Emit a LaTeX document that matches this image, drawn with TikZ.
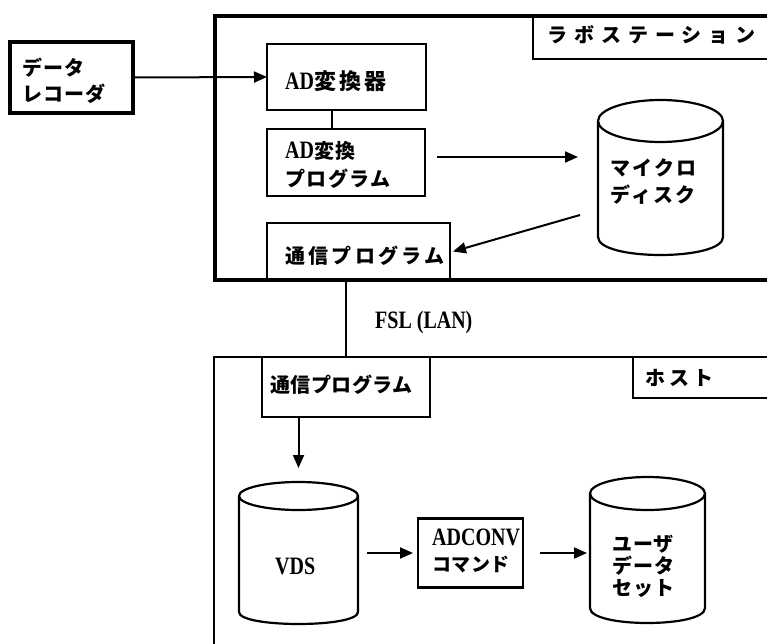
\documentclass[tikz,border=0pt]{standalone}
\usepackage{fontspec}
\setmainfont{Liberation Serif}[FakeStretch=0.8]
\newfontfamily\jpf{Noto Sans CJK JP}
\usetikzlibrary{arrows.meta}
% #1 size, #2 letter space, #3 baselineskip, #4 text
\newcommand\jt[4]{{\fontsize{#1pt}{#3pt}\selectfont\jpf\addfontfeatures{LetterSpace=#2}#4}}
\newcommand\drawcyl[4]{% #1 name, #2 rx, #3 top ry, #4 bottom ry
  \draw[cylline] ([yshift=-#3pt]#1.north) ellipse [x radius=#2pt, y radius=#3pt];
  \draw[cylline] ([yshift=-#3pt]#1.north west) -- ([yshift=#4pt]#1.south west)
    .. controls ([yshift={-#4pt/3}]#1.south west) and ([yshift={-#4pt/3}]#1.south east) ..
    ([yshift=#4pt]#1.south east) -- ([yshift=-#3pt]#1.north east);
}
\begin{document}
\begin{tikzpicture}[x=1pt,y=-1pt,
  boxst/.style={draw, line width=2.3pt, inner sep=0pt, outer sep=0pt},
  cylst/.style={draw=none, inner sep=0pt, outer sep=0pt},
  cylline/.style={line width=2.2pt},
  conn/.style={line width=2pt},
  arr/.style={line width=2pt, -{Triangle[length=13pt,width=11pt]}},
  tx/.style={inner sep=0pt, anchor=west, align=left, font=\fontsize{20pt}{26pt}\selectfont\bfseries},
  lat/.style={inner sep=0pt, anchor=west, align=left, font=\fontsize{25pt}{26pt}\selectfont\bfseries}
]
\useasboundingbox (0,0) rectangle (767,644);
\clip (0,0) rectangle (767,644);
\fill[white] (0,0) rectangle (767,644);

% ---- lab station frame ----
\draw[line width=3.2pt] (780,16) -- (215,16) -- (215,280) -- (780,280);
\draw[line width=2.3pt] (780,59) -- (533,59) -- (533,16);
\node[tx] (labt) at (547,35) {\jt{20}{35}{26}{ラボステーション}};

% ---- host frame ----
\draw[line width=2.6pt] (780,357) -- (214,357) -- (214,660);
\draw[line width=2.3pt] (780,398) -- (633,398) -- (633,357);
\node[tx] (hostt) at (645,378) {\jt{20}{20}{26}{ホスト}};

% ---- boxes ----
\node[boxst, line width=4pt, minimum width=123pt, minimum height=71pt] (rec) at (71.5,77.5) {};
\node[boxst, minimum width=159pt, minimum height=66pt] (adc) at (346.5,77) {};
\node[boxst, minimum width=158pt, minimum height=67pt] (adp) at (346,162.5) {};
\node[boxst, minimum width=183pt, minimum height=57pt] (com1) at (358.5,251.5) {};
\node[boxst, minimum width=168pt, minimum height=60pt] (com2) at (346,387) {};
\node[boxst, minimum width=105pt, minimum height=69pt] (adv) at (470.5,553) {};

% ---- cylinders ----
\node[cylst, minimum width=125pt, minimum height=155pt] (disk) at (660.5,177.5) {};
\node[cylst, minimum width=119pt, minimum height=142pt] (vds) at (298.5,553) {};
\node[cylst, minimum width=115pt, minimum height=146pt] (usr) at (647.5,550) {};
\drawcyl{disk}{62.5}{21}{18}
\drawcyl{vds}{59.5}{14}{12}
\drawcyl{usr}{57.5}{16.5}{15}

% ---- texts ----
\node[tx] (rect) at (22,80.5) {\jt{20}{5}{25}{データ}\\\jt{20}{5}{25}{レコーダ}};
\node[lat] (adct) at (285,81) {AD\jt{22}{14}{26}{変換器}};
\node[lat, font=\fontsize{25pt}{28pt}\selectfont\bfseries] (adpt) at (285,165) {AD\jt{20}{7.5}{28}{変換}\\\jt{20}{7.5}{28}{プログラム}};
\node[tx] (com1t) at (285,256) {\jt{20}{16.5}{26}{通信プログラム}};
\node[tx, font=\fontsize{20pt}{27pt}\selectfont\bfseries] (diskt) at (610,181.5) {\jt{20}{11.5}{27}{マイクロ}\\\jt{20}{11.5}{27}{ディスク}};
\node[lat] (fslt) at (375,322) {FSL (LAN)};
\node[tx] (com2t) at (270,385) {\jt{20}{2.5}{26}{通信プログラム}};
\node[lat] (vdst) at (275,566) {VDS};
\node[lat, font=\fontsize{25pt}{26.5pt}\selectfont\bfseries] (advt) at (432,551) {ADCONV\\\jt{19}{3}{26.5}{コマンド}};
\node[tx, font=\fontsize{20pt}{22pt}\selectfont\bfseries] (usrt) at (612,566) {\jt{20}{5}{22}{ユーザ}\\\jt{20}{5}{22}{データ}\\\jt{20}{5}{22}{セット}};

% ---- connectors ----
\draw[arr] (rec.east) -- (adc.west);
\draw[conn] ([xshift=-14.5pt]adc.south) -- ([xshift=-14pt]adp.north);
\draw[arr] ([xshift=12pt,yshift=5.5pt]adp.east) -- ([xshift=-20pt,yshift=20.5pt]disk.west);
\draw[arr] ([xshift=-18pt,yshift=-37.5pt]disk.west) -- ([xshift=3pt]com1.east);
\draw[conn] (com2.north |- com1.south) -- (com2.north);
\draw[arr] (vds.north |- com2.south) -- ([yshift=14pt]vds.north);
\draw[arr] ([xshift=9pt]vds.east) -- ([xshift=-5pt]adv.west);
\draw[arr] ([xshift=17pt]adv.east) -- ([xshift=-3pt,yshift=-3pt]usr.west);
\end{tikzpicture}
\end{document}
